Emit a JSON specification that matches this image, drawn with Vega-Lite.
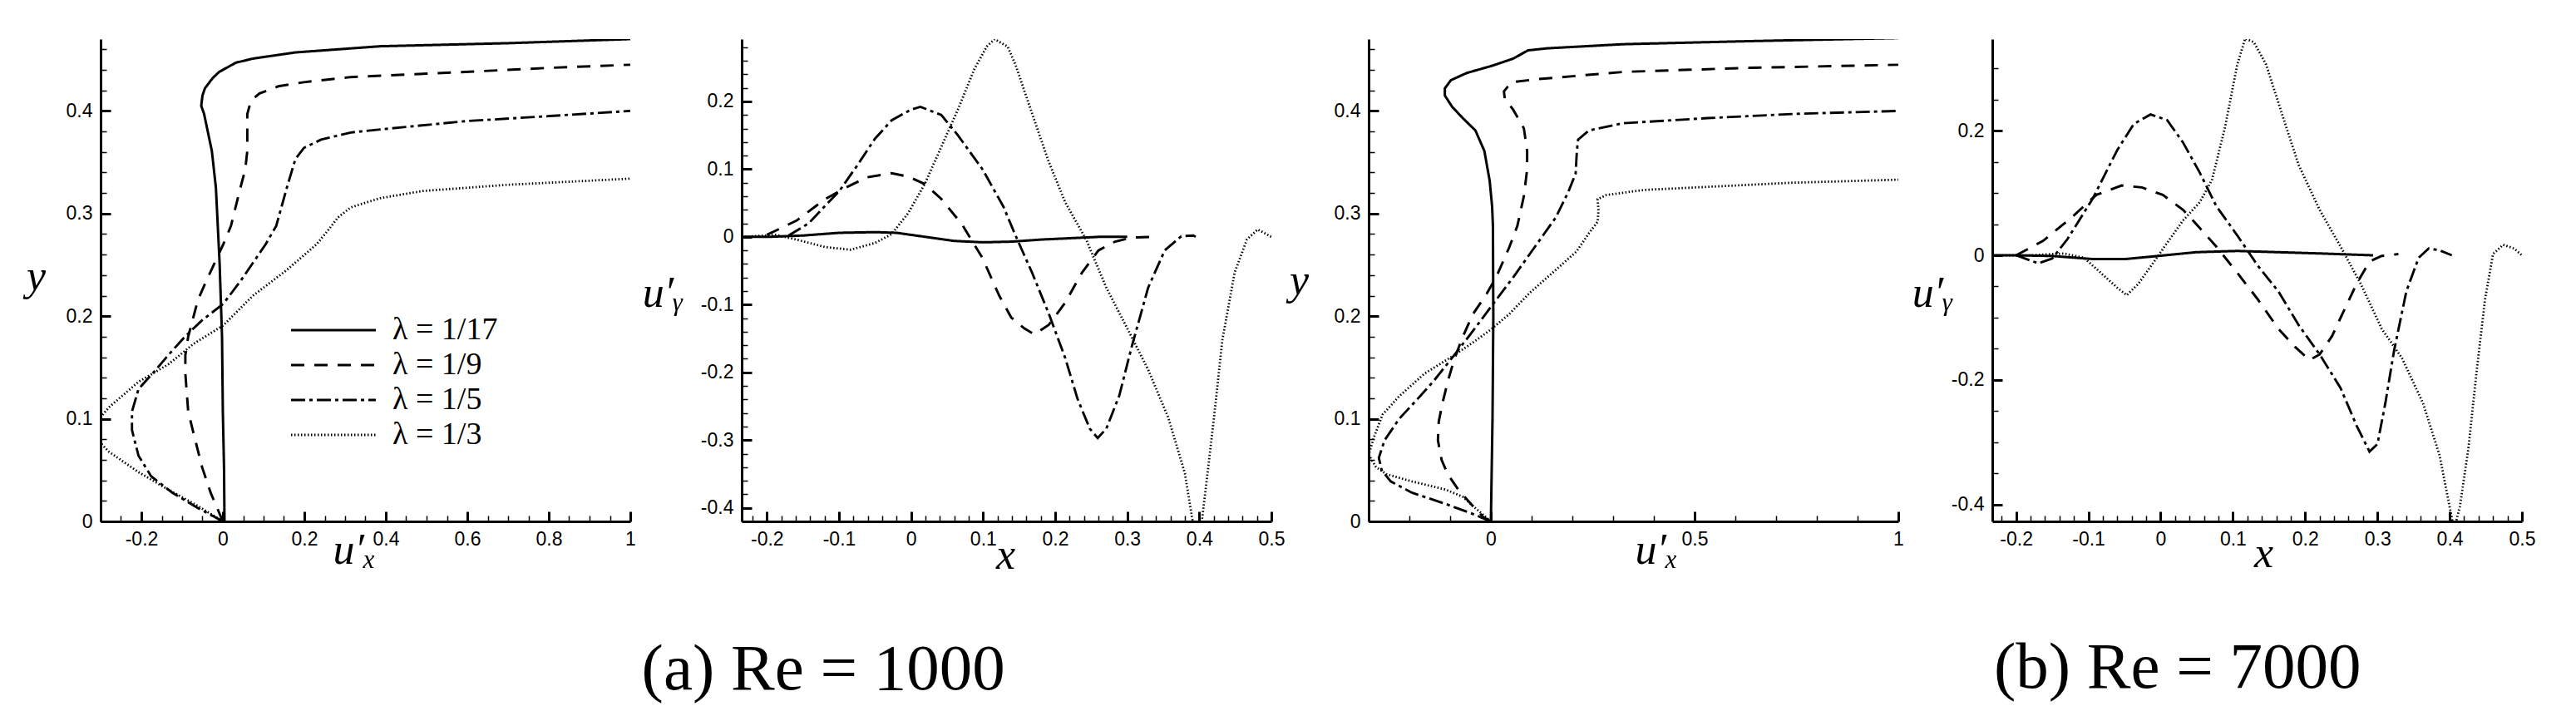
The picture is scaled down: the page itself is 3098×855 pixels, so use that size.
{
"$schema": "https://vega.github.io/schema/vega-lite/v6.json",
"background": "white",
"padding": {"left": 31, "top": 45, "right": 5, "bottom": 5},
"config": {
  "view": {"stroke": null},
  "axis": {"domainColor": "black", "domainWidth": 3, "tickColor": "black", "labelColor": "black", "labelFont": "Liberation Sans", "labelFontSize": 23, "labelPadding": 22, "grid": false, "labelFlush": false, "labelOverlap": false, "labelBound": false, "titleColor": "black", "titleFont": "Liberation Serif", "titleFontStyle": "italic", "titleFontSize": 52, "titleFontWeight": "normal", "titleAlign": "center"},
  "axisY": {"titleAngle": 0, "titleBaseline": "middle"},
  "axisX": {"titleBaseline": "alphabetic"},
  "legend": {"labelFont": "Liberation Serif", "labelFontSize": 38, "labelColor": "black", "labelLimit": 400, "symbolStrokeColor": "black"},
  "line": {"color": "black", "strokeCap": "butt"}
},
"datasets": {"d": [
{"p":"a1","lam":"λ = 1/17","x":0.004,"y":0},{"p":"a1","lam":"λ = 1/17","x":0.003,"y":0.05},{"p":"a1","lam":"λ = 1/17","x":0.0,"y":0.107},{"p":"a1","lam":"λ = 1/17","x":-0.002,"y":0.18},{"p":"a1","lam":"λ = 1/17","x":-0.008,"y":0.252},{"p":"a1","lam":"λ = 1/17","x":-0.017,"y":0.325},{"p":"a1","lam":"λ = 1/17","x":-0.027,"y":0.361},{"p":"a1","lam":"λ = 1/17","x":-0.046,"y":0.397},{"p":"a1","lam":"λ = 1/17","x":-0.053,"y":0.405},{"p":"a1","lam":"λ = 1/17","x":-0.05,"y":0.415},{"p":"a1","lam":"λ = 1/17","x":-0.044,"y":0.422},{"p":"a1","lam":"λ = 1/17","x":-0.025,"y":0.432},{"p":"a1","lam":"λ = 1/17","x":-0.009,"y":0.438},{"p":"a1","lam":"λ = 1/17","x":0.032,"y":0.447},{"p":"a1","lam":"λ = 1/17","x":0.074,"y":0.451},{"p":"a1","lam":"λ = 1/17","x":0.178,"y":0.457},{"p":"a1","lam":"λ = 1/17","x":0.282,"y":0.46},{"p":"a1","lam":"λ = 1/17","x":0.386,"y":0.463},{"p":"a1","lam":"λ = 1/17","x":0.699,"y":0.466},{"p":"a1","lam":"λ = 1/17","x":1.0,"y":0.47},
{"p":"a1","lam":"λ = 1/9","x":0,"y":0},{"p":"a1","lam":"λ = 1/9","x":-0.03,"y":0.028},{"p":"a1","lam":"λ = 1/9","x":-0.051,"y":0.053},{"p":"a1","lam":"λ = 1/9","x":-0.072,"y":0.086},{"p":"a1","lam":"λ = 1/9","x":-0.085,"y":0.107},{"p":"a1","lam":"λ = 1/9","x":-0.092,"y":0.144},{"p":"a1","lam":"λ = 1/9","x":-0.092,"y":0.162},{"p":"a1","lam":"λ = 1/9","x":-0.085,"y":0.18},{"p":"a1","lam":"λ = 1/9","x":-0.061,"y":0.216},{"p":"a1","lam":"λ = 1/9","x":-0.041,"y":0.234},{"p":"a1","lam":"λ = 1/9","x":-0.02,"y":0.252},{"p":"a1","lam":"λ = 1/9","x":0.001,"y":0.27},{"p":"a1","lam":"λ = 1/9","x":0.02,"y":0.288},{"p":"a1","lam":"λ = 1/9","x":0.043,"y":0.325},{"p":"a1","lam":"λ = 1/9","x":0.055,"y":0.343},{"p":"a1","lam":"λ = 1/9","x":0.06,"y":0.361},{"p":"a1","lam":"λ = 1/9","x":0.06,"y":0.397},{"p":"a1","lam":"λ = 1/9","x":0.069,"y":0.41},{"p":"a1","lam":"λ = 1/9","x":0.09,"y":0.417},{"p":"a1","lam":"λ = 1/9","x":0.136,"y":0.424},{"p":"a1","lam":"λ = 1/9","x":0.199,"y":0.428},{"p":"a1","lam":"λ = 1/9","x":0.314,"y":0.433},{"p":"a1","lam":"λ = 1/9","x":0.595,"y":0.438},{"p":"a1","lam":"λ = 1/9","x":0.803,"y":0.442},{"p":"a1","lam":"λ = 1/9","x":1.0,"y":0.445},
{"p":"a1","lam":"λ = 1/5","x":0,"y":0},{"p":"a1","lam":"λ = 1/5","x":-0.061,"y":0.013},{"p":"a1","lam":"λ = 1/5","x":-0.124,"y":0.028},{"p":"a1","lam":"λ = 1/5","x":-0.176,"y":0.044},{"p":"a1","lam":"λ = 1/5","x":-0.207,"y":0.064},{"p":"a1","lam":"λ = 1/5","x":-0.223,"y":0.089},{"p":"a1","lam":"λ = 1/5","x":-0.223,"y":0.107},{"p":"a1","lam":"λ = 1/5","x":-0.207,"y":0.129},{"p":"a1","lam":"λ = 1/5","x":-0.166,"y":0.147},{"p":"a1","lam":"λ = 1/5","x":-0.134,"y":0.162},{"p":"a1","lam":"λ = 1/5","x":-0.093,"y":0.18},{"p":"a1","lam":"λ = 1/5","x":-0.051,"y":0.196},{"p":"a1","lam":"λ = 1/5","x":0.001,"y":0.212},{"p":"a1","lam":"λ = 1/5","x":0.043,"y":0.234},{"p":"a1","lam":"λ = 1/5","x":0.074,"y":0.252},{"p":"a1","lam":"λ = 1/5","x":0.105,"y":0.27},{"p":"a1","lam":"λ = 1/5","x":0.131,"y":0.288},{"p":"a1","lam":"λ = 1/5","x":0.157,"y":0.325},{"p":"a1","lam":"λ = 1/5","x":0.178,"y":0.353},{"p":"a1","lam":"λ = 1/5","x":0.199,"y":0.364},{"p":"a1","lam":"λ = 1/5","x":0.241,"y":0.372},{"p":"a1","lam":"λ = 1/5","x":0.314,"y":0.379},{"p":"a1","lam":"λ = 1/5","x":0.439,"y":0.384},{"p":"a1","lam":"λ = 1/5","x":0.595,"y":0.39},{"p":"a1","lam":"λ = 1/5","x":0.803,"y":0.395},{"p":"a1","lam":"λ = 1/5","x":1.0,"y":0.4},
{"p":"a1","lam":"λ = 1/3","x":0,"y":0},{"p":"a1","lam":"λ = 1/3","x":-0.061,"y":0.015},{"p":"a1","lam":"λ = 1/3","x":-0.134,"y":0.031},{"p":"a1","lam":"λ = 1/3","x":-0.207,"y":0.048},{"p":"a1","lam":"λ = 1/3","x":-0.28,"y":0.068},{"p":"a1","lam":"λ = 1/3","x":-0.32,"y":0.085},{"p":"a1","lam":"λ = 1/3","x":-0.303,"y":0.1},{"p":"a1","lam":"λ = 1/3","x":-0.28,"y":0.111},{"p":"a1","lam":"λ = 1/3","x":-0.207,"y":0.136},{"p":"a1","lam":"λ = 1/3","x":-0.134,"y":0.153},{"p":"a1","lam":"λ = 1/3","x":-0.072,"y":0.173},{"p":"a1","lam":"λ = 1/3","x":0.001,"y":0.191},{"p":"a1","lam":"λ = 1/3","x":0.074,"y":0.22},{"p":"a1","lam":"λ = 1/3","x":0.157,"y":0.245},{"p":"a1","lam":"λ = 1/3","x":0.23,"y":0.27},{"p":"a1","lam":"λ = 1/3","x":0.261,"y":0.285},{"p":"a1","lam":"λ = 1/3","x":0.282,"y":0.296},{"p":"a1","lam":"λ = 1/3","x":0.314,"y":0.306},{"p":"a1","lam":"λ = 1/3","x":0.386,"y":0.315},{"p":"a1","lam":"λ = 1/3","x":0.491,"y":0.322},{"p":"a1","lam":"λ = 1/3","x":0.699,"y":0.328},{"p":"a1","lam":"λ = 1/3","x":1.0,"y":0.334},
{"p":"a2","lam":"λ = 1/17","x":-0.235,"y":0},{"p":"a2","lam":"λ = 1/17","x":-0.2,"y":0},{"p":"a2","lam":"λ = 1/17","x":-0.15,"y":0.002},{"p":"a2","lam":"λ = 1/17","x":-0.1,"y":0.006},{"p":"a2","lam":"λ = 1/17","x":-0.05,"y":0.007},{"p":"a2","lam":"λ = 1/17","x":-0.02,"y":0.006},{"p":"a2","lam":"λ = 1/17","x":0.02,"y":0.0},{"p":"a2","lam":"λ = 1/17","x":0.06,"y":-0.006},{"p":"a2","lam":"λ = 1/17","x":0.1,"y":-0.008},{"p":"a2","lam":"λ = 1/17","x":0.14,"y":-0.007},{"p":"a2","lam":"λ = 1/17","x":0.18,"y":-0.004},{"p":"a2","lam":"λ = 1/17","x":0.22,"y":-0.002},{"p":"a2","lam":"λ = 1/17","x":0.26,"y":0},{"p":"a2","lam":"λ = 1/17","x":0.3,"y":0},
{"p":"a2","lam":"λ = 1/9","x":-0.2,"y":0.003},{"p":"a2","lam":"λ = 1/9","x":-0.159,"y":0.024},{"p":"a2","lam":"λ = 1/9","x":-0.119,"y":0.056},{"p":"a2","lam":"λ = 1/9","x":-0.09,"y":0.073},{"p":"a2","lam":"λ = 1/9","x":-0.061,"y":0.088},{"p":"a2","lam":"λ = 1/9","x":-0.027,"y":0.094},{"p":"a2","lam":"λ = 1/9","x":-0.004,"y":0.089},{"p":"a2","lam":"λ = 1/9","x":0.019,"y":0.078},{"p":"a2","lam":"λ = 1/9","x":0.042,"y":0.056},{"p":"a2","lam":"λ = 1/9","x":0.071,"y":0.018},{"p":"a2","lam":"λ = 1/9","x":0.099,"y":-0.031},{"p":"a2","lam":"λ = 1/9","x":0.122,"y":-0.086},{"p":"a2","lam":"λ = 1/9","x":0.139,"y":-0.119},{"p":"a2","lam":"λ = 1/9","x":0.157,"y":-0.135},{"p":"a2","lam":"λ = 1/9","x":0.171,"y":-0.144},{"p":"a2","lam":"λ = 1/9","x":0.191,"y":-0.13},{"p":"a2","lam":"λ = 1/9","x":0.214,"y":-0.097},{"p":"a2","lam":"λ = 1/9","x":0.237,"y":-0.053},{"p":"a2","lam":"λ = 1/9","x":0.26,"y":-0.02},{"p":"a2","lam":"λ = 1/9","x":0.283,"y":-0.007},{"p":"a2","lam":"λ = 1/9","x":0.306,"y":-0.001},{"p":"a2","lam":"λ = 1/9","x":0.334,"y":0},
{"p":"a2","lam":"λ = 1/5","x":-0.17,"y":0.002},{"p":"a2","lam":"λ = 1/5","x":-0.142,"y":0.02},{"p":"a2","lam":"λ = 1/5","x":-0.12,"y":0.045},{"p":"a2","lam":"λ = 1/5","x":-0.1,"y":0.067},{"p":"a2","lam":"λ = 1/5","x":-0.075,"y":0.105},{"p":"a2","lam":"λ = 1/5","x":-0.05,"y":0.145},{"p":"a2","lam":"λ = 1/5","x":-0.027,"y":0.172},{"p":"a2","lam":"λ = 1/5","x":0,"y":0.188},{"p":"a2","lam":"λ = 1/5","x":0.013,"y":0.192},{"p":"a2","lam":"λ = 1/5","x":0.042,"y":0.18},{"p":"a2","lam":"λ = 1/5","x":0.065,"y":0.15},{"p":"a2","lam":"λ = 1/5","x":0.099,"y":0.1},{"p":"a2","lam":"λ = 1/5","x":0.128,"y":0.045},{"p":"a2","lam":"λ = 1/5","x":0.145,"y":0.002},{"p":"a2","lam":"λ = 1/5","x":0.168,"y":-0.053},{"p":"a2","lam":"λ = 1/5","x":0.191,"y":-0.113},{"p":"a2","lam":"λ = 1/5","x":0.214,"y":-0.179},{"p":"a2","lam":"λ = 1/5","x":0.231,"y":-0.239},{"p":"a2","lam":"λ = 1/5","x":0.248,"y":-0.283},{"p":"a2","lam":"λ = 1/5","x":0.259,"y":-0.297},{"p":"a2","lam":"λ = 1/5","x":0.271,"y":-0.283},{"p":"a2","lam":"λ = 1/5","x":0.289,"y":-0.234},{"p":"a2","lam":"λ = 1/5","x":0.306,"y":-0.163},{"p":"a2","lam":"λ = 1/5","x":0.329,"y":-0.075},{"p":"a2","lam":"λ = 1/5","x":0.352,"y":-0.02},{"p":"a2","lam":"λ = 1/5","x":0.375,"y":0.001},{"p":"a2","lam":"λ = 1/5","x":0.392,"y":0.002},{"p":"a2","lam":"λ = 1/5","x":0.395,"y":0},
{"p":"a2","lam":"λ = 1/3","x":-0.235,"y":0},{"p":"a2","lam":"λ = 1/3","x":-0.188,"y":0.003},{"p":"a2","lam":"λ = 1/3","x":-0.159,"y":-0.004},{"p":"a2","lam":"λ = 1/3","x":-0.119,"y":-0.015},{"p":"a2","lam":"λ = 1/3","x":-0.084,"y":-0.019},{"p":"a2","lam":"λ = 1/3","x":-0.05,"y":-0.009},{"p":"a2","lam":"λ = 1/3","x":-0.027,"y":0.004},{"p":"a2","lam":"λ = 1/3","x":-0.004,"y":0.035},{"p":"a2","lam":"λ = 1/3","x":0.019,"y":0.078},{"p":"a2","lam":"λ = 1/3","x":0.042,"y":0.133},{"p":"a2","lam":"λ = 1/3","x":0.065,"y":0.188},{"p":"a2","lam":"λ = 1/3","x":0.088,"y":0.248},{"p":"a2","lam":"λ = 1/3","x":0.105,"y":0.281},{"p":"a2","lam":"λ = 1/3","x":0.116,"y":0.292},{"p":"a2","lam":"λ = 1/3","x":0.134,"y":0.281},{"p":"a2","lam":"λ = 1/3","x":0.145,"y":0.254},{"p":"a2","lam":"λ = 1/3","x":0.168,"y":0.182},{"p":"a2","lam":"λ = 1/3","x":0.191,"y":0.111},{"p":"a2","lam":"λ = 1/3","x":0.214,"y":0.051},{"p":"a2","lam":"λ = 1/3","x":0.243,"y":-0.004},{"p":"a2","lam":"λ = 1/3","x":0.271,"y":-0.075},{"p":"a2","lam":"λ = 1/3","x":0.3,"y":-0.135},{"p":"a2","lam":"λ = 1/3","x":0.329,"y":-0.196},{"p":"a2","lam":"λ = 1/3","x":0.357,"y":-0.267},{"p":"a2","lam":"λ = 1/3","x":0.38,"y":-0.349},{"p":"a2","lam":"λ = 1/3","x":0.39,"y":-0.415},{"p":"a2","lam":"λ = 1/3","x":0.397,"y":-0.45},{"p":"a2","lam":"λ = 1/3","x":0.404,"y":-0.415},{"p":"a2","lam":"λ = 1/3","x":0.409,"y":-0.371},{"p":"a2","lam":"λ = 1/3","x":0.421,"y":-0.261},{"p":"a2","lam":"λ = 1/3","x":0.432,"y":-0.152},{"p":"a2","lam":"λ = 1/3","x":0.449,"y":-0.053},{"p":"a2","lam":"λ = 1/3","x":0.466,"y":-0.004},{"p":"a2","lam":"λ = 1/3","x":0.481,"y":0.011},{"p":"a2","lam":"λ = 1/3","x":0.5,"y":0},
{"p":"b1","lam":"λ = 1/17","x":0,"y":0},{"p":"b1","lam":"λ = 1/17","x":0.004,"y":0.1},{"p":"b1","lam":"λ = 1/17","x":0.006,"y":0.2},{"p":"b1","lam":"λ = 1/17","x":0.005,"y":0.288},{"p":"b1","lam":"λ = 1/17","x":0.003,"y":0.307},{"p":"b1","lam":"λ = 1/17","x":-0.003,"y":0.332},{"p":"b1","lam":"λ = 1/17","x":-0.016,"y":0.361},{"p":"b1","lam":"λ = 1/17","x":-0.038,"y":0.381},{"p":"b1","lam":"λ = 1/17","x":-0.069,"y":0.393},{"p":"b1","lam":"λ = 1/17","x":-0.095,"y":0.404},{"p":"b1","lam":"λ = 1/17","x":-0.113,"y":0.415},{"p":"b1","lam":"λ = 1/17","x":-0.113,"y":0.422},{"p":"b1","lam":"λ = 1/17","x":-0.098,"y":0.43},{"p":"b1","lam":"λ = 1/17","x":-0.059,"y":0.437},{"p":"b1","lam":"λ = 1/17","x":0.003,"y":0.444},{"p":"b1","lam":"λ = 1/17","x":0.055,"y":0.451},{"p":"b1","lam":"λ = 1/17","x":0.091,"y":0.459},{"p":"b1","lam":"λ = 1/17","x":0.138,"y":0.461},{"p":"b1","lam":"λ = 1/17","x":0.324,"y":0.465},{"p":"b1","lam":"λ = 1/17","x":0.635,"y":0.468},{"p":"b1","lam":"λ = 1/17","x":1.0,"y":0.471},
{"p":"b1","lam":"λ = 1/9","x":0,"y":0},{"p":"b1","lam":"λ = 1/9","x":-0.018,"y":0.004},{"p":"b1","lam":"λ = 1/9","x":-0.049,"y":0.017},{"p":"b1","lam":"λ = 1/9","x":-0.08,"y":0.031},{"p":"b1","lam":"λ = 1/9","x":-0.106,"y":0.046},{"p":"b1","lam":"λ = 1/9","x":-0.121,"y":0.06},{"p":"b1","lam":"λ = 1/9","x":-0.13,"y":0.079},{"p":"b1","lam":"λ = 1/9","x":-0.128,"y":0.097},{"p":"b1","lam":"λ = 1/9","x":-0.119,"y":0.115},{"p":"b1","lam":"λ = 1/9","x":-0.106,"y":0.136},{"p":"b1","lam":"λ = 1/9","x":-0.09,"y":0.158},{"p":"b1","lam":"λ = 1/9","x":-0.069,"y":0.18},{"p":"b1","lam":"λ = 1/9","x":-0.044,"y":0.202},{"p":"b1","lam":"λ = 1/9","x":-0.01,"y":0.222},{"p":"b1","lam":"λ = 1/9","x":0.013,"y":0.238},{"p":"b1","lam":"λ = 1/9","x":0.045,"y":0.267},{"p":"b1","lam":"λ = 1/9","x":0.065,"y":0.288},{"p":"b1","lam":"λ = 1/9","x":0.081,"y":0.317},{"p":"b1","lam":"λ = 1/9","x":0.089,"y":0.343},{"p":"b1","lam":"λ = 1/9","x":0.089,"y":0.361},{"p":"b1","lam":"λ = 1/9","x":0.081,"y":0.383},{"p":"b1","lam":"λ = 1/9","x":0.055,"y":0.401},{"p":"b1","lam":"λ = 1/9","x":0.034,"y":0.412},{"p":"b1","lam":"λ = 1/9","x":0.032,"y":0.419},{"p":"b1","lam":"λ = 1/9","x":0.05,"y":0.428},{"p":"b1","lam":"λ = 1/9","x":0.117,"y":0.431},{"p":"b1","lam":"λ = 1/9","x":0.324,"y":0.438},{"p":"b1","lam":"λ = 1/9","x":0.635,"y":0.442},{"p":"b1","lam":"λ = 1/9","x":1.0,"y":0.445},
{"p":"b1","lam":"λ = 1/5","x":0,"y":0},{"p":"b1","lam":"λ = 1/5","x":-0.049,"y":0.008},{"p":"b1","lam":"λ = 1/5","x":-0.111,"y":0.017},{"p":"b1","lam":"λ = 1/5","x":-0.194,"y":0.028},{"p":"b1","lam":"λ = 1/5","x":-0.246,"y":0.039},{"p":"b1","lam":"λ = 1/5","x":-0.268,"y":0.05},{"p":"b1","lam":"λ = 1/5","x":-0.275,"y":0.062},{"p":"b1","lam":"λ = 1/5","x":-0.261,"y":0.079},{"p":"b1","lam":"λ = 1/5","x":-0.225,"y":0.1},{"p":"b1","lam":"λ = 1/5","x":-0.183,"y":0.118},{"p":"b1","lam":"λ = 1/5","x":-0.142,"y":0.136},{"p":"b1","lam":"λ = 1/5","x":-0.09,"y":0.162},{"p":"b1","lam":"λ = 1/5","x":-0.049,"y":0.183},{"p":"b1","lam":"λ = 1/5","x":0,"y":0.209},{"p":"b1","lam":"λ = 1/5","x":0.055,"y":0.238},{"p":"b1","lam":"λ = 1/5","x":0.107,"y":0.267},{"p":"b1","lam":"λ = 1/5","x":0.159,"y":0.296},{"p":"b1","lam":"λ = 1/5","x":0.19,"y":0.321},{"p":"b1","lam":"λ = 1/5","x":0.208,"y":0.339},{"p":"b1","lam":"λ = 1/5","x":0.211,"y":0.361},{"p":"b1","lam":"λ = 1/5","x":0.214,"y":0.372},{"p":"b1","lam":"λ = 1/5","x":0.241,"y":0.381},{"p":"b1","lam":"λ = 1/5","x":0.324,"y":0.388},{"p":"b1","lam":"λ = 1/5","x":0.532,"y":0.393},{"p":"b1","lam":"λ = 1/5","x":0.739,"y":0.397},{"p":"b1","lam":"λ = 1/5","x":1.0,"y":0.4},
{"p":"b1","lam":"λ = 1/3","x":0,"y":0},{"p":"b1","lam":"λ = 1/3","x":-0.038,"y":0.013},{"p":"b1","lam":"λ = 1/3","x":-0.069,"y":0.024},{"p":"b1","lam":"λ = 1/3","x":-0.111,"y":0.031},{"p":"b1","lam":"λ = 1/3","x":-0.194,"y":0.039},{"p":"b1","lam":"λ = 1/3","x":-0.256,"y":0.046},{"p":"b1","lam":"λ = 1/3","x":-0.282,"y":0.053},{"p":"b1","lam":"λ = 1/3","x":-0.3,"y":0.065},{"p":"b1","lam":"λ = 1/3","x":-0.287,"y":0.082},{"p":"b1","lam":"λ = 1/3","x":-0.266,"y":0.104},{"p":"b1","lam":"λ = 1/3","x":-0.225,"y":0.122},{"p":"b1","lam":"λ = 1/3","x":-0.163,"y":0.144},{"p":"b1","lam":"λ = 1/3","x":-0.09,"y":0.162},{"p":"b1","lam":"λ = 1/3","x":-0.038,"y":0.176},{"p":"b1","lam":"λ = 1/3","x":0,"y":0.187},{"p":"b1","lam":"λ = 1/3","x":0.045,"y":0.202},{"p":"b1","lam":"λ = 1/3","x":0.096,"y":0.223},{"p":"b1","lam":"λ = 1/3","x":0.159,"y":0.245},{"p":"b1","lam":"λ = 1/3","x":0.21,"y":0.263},{"p":"b1","lam":"λ = 1/3","x":0.241,"y":0.281},{"p":"b1","lam":"λ = 1/3","x":0.262,"y":0.292},{"p":"b1","lam":"λ = 1/3","x":0.264,"y":0.303},{"p":"b1","lam":"λ = 1/3","x":0.262,"y":0.314},{"p":"b1","lam":"λ = 1/3","x":0.283,"y":0.318},{"p":"b1","lam":"λ = 1/3","x":0.376,"y":0.323},{"p":"b1","lam":"λ = 1/3","x":0.532,"y":0.326},{"p":"b1","lam":"λ = 1/3","x":0.739,"y":0.33},{"p":"b1","lam":"λ = 1/3","x":1.0,"y":0.333},
{"p":"b2","lam":"λ = 1/17","x":-0.233,"y":0},{"p":"b2","lam":"λ = 1/17","x":-0.2,"y":0},{"p":"b2","lam":"λ = 1/17","x":-0.151,"y":-0.001},{"p":"b2","lam":"λ = 1/17","x":-0.094,"y":-0.006},{"p":"b2","lam":"λ = 1/17","x":-0.049,"y":-0.006},{"p":"b2","lam":"λ = 1/17","x":-0.003,"y":-0.001},{"p":"b2","lam":"λ = 1/17","x":0.049,"y":0.005},{"p":"b2","lam":"λ = 1/17","x":0.106,"y":0.007},{"p":"b2","lam":"λ = 1/17","x":0.163,"y":0.005},{"p":"b2","lam":"λ = 1/17","x":0.22,"y":0.003},{"p":"b2","lam":"λ = 1/17","x":0.294,"y":0},
{"p":"b2","lam":"λ = 1/9","x":-0.2,"y":0},{"p":"b2","lam":"λ = 1/9","x":-0.163,"y":0.023},{"p":"b2","lam":"λ = 1/9","x":-0.123,"y":0.061},{"p":"b2","lam":"λ = 1/9","x":-0.089,"y":0.097},{"p":"b2","lam":"λ = 1/9","x":-0.054,"y":0.112},{"p":"b2","lam":"λ = 1/9","x":-0.026,"y":0.109},{"p":"b2","lam":"λ = 1/9","x":0.003,"y":0.097},{"p":"b2","lam":"λ = 1/9","x":0.031,"y":0.073},{"p":"b2","lam":"λ = 1/9","x":0.054,"y":0.044},{"p":"b2","lam":"λ = 1/9","x":0.077,"y":0.014},{"p":"b2","lam":"λ = 1/9","x":0.106,"y":-0.028},{"p":"b2","lam":"λ = 1/9","x":0.134,"y":-0.07},{"p":"b2","lam":"λ = 1/9","x":0.163,"y":-0.118},{"p":"b2","lam":"λ = 1/9","x":0.186,"y":-0.147},{"p":"b2","lam":"λ = 1/9","x":0.206,"y":-0.168},{"p":"b2","lam":"λ = 1/9","x":0.22,"y":-0.159},{"p":"b2","lam":"λ = 1/9","x":0.237,"y":-0.13},{"p":"b2","lam":"λ = 1/9","x":0.254,"y":-0.088},{"p":"b2","lam":"λ = 1/9","x":0.271,"y":-0.046},{"p":"b2","lam":"λ = 1/9","x":0.289,"y":-0.01},{"p":"b2","lam":"λ = 1/9","x":0.306,"y":-0.001},{"p":"b2","lam":"λ = 1/9","x":0.329,"y":0.002},
{"p":"b2","lam":"λ = 1/5","x":-0.2,"y":0},{"p":"b2","lam":"λ = 1/5","x":-0.169,"y":-0.013},{"p":"b2","lam":"λ = 1/5","x":-0.15,"y":-0.005},{"p":"b2","lam":"λ = 1/5","x":-0.129,"y":0.026},{"p":"b2","lam":"λ = 1/5","x":-0.094,"y":0.091},{"p":"b2","lam":"λ = 1/5","x":-0.06,"y":0.169},{"p":"b2","lam":"λ = 1/5","x":-0.037,"y":0.211},{"p":"b2","lam":"λ = 1/5","x":-0.014,"y":0.226},{"p":"b2","lam":"λ = 1/5","x":0.009,"y":0.217},{"p":"b2","lam":"λ = 1/5","x":0.031,"y":0.181},{"p":"b2","lam":"λ = 1/5","x":0.054,"y":0.133},{"p":"b2","lam":"λ = 1/5","x":0.077,"y":0.079},{"p":"b2","lam":"λ = 1/5","x":0.106,"y":0.032},{"p":"b2","lam":"λ = 1/5","x":0.134,"y":-0.016},{"p":"b2","lam":"λ = 1/5","x":0.163,"y":-0.058},{"p":"b2","lam":"λ = 1/5","x":0.191,"y":-0.112},{"p":"b2","lam":"λ = 1/5","x":0.22,"y":-0.159},{"p":"b2","lam":"λ = 1/5","x":0.249,"y":-0.213},{"p":"b2","lam":"λ = 1/5","x":0.271,"y":-0.273},{"p":"b2","lam":"λ = 1/5","x":0.289,"y":-0.315},{"p":"b2","lam":"λ = 1/5","x":0.3,"y":-0.303},{"p":"b2","lam":"λ = 1/5","x":0.311,"y":-0.237},{"p":"b2","lam":"λ = 1/5","x":0.323,"y":-0.153},{"p":"b2","lam":"λ = 1/5","x":0.34,"y":-0.058},{"p":"b2","lam":"λ = 1/5","x":0.357,"y":-0.004},{"p":"b2","lam":"λ = 1/5","x":0.371,"y":0.011},{"p":"b2","lam":"λ = 1/5","x":0.386,"y":0.008},{"p":"b2","lam":"λ = 1/5","x":0.403,"y":0},
{"p":"b2","lam":"λ = 1/3","x":-0.233,"y":0},{"p":"b2","lam":"λ = 1/3","x":-0.18,"y":0},{"p":"b2","lam":"λ = 1/3","x":-0.134,"y":0.003},{"p":"b2","lam":"λ = 1/3","x":-0.106,"y":-0.004},{"p":"b2","lam":"λ = 1/3","x":-0.083,"y":-0.028},{"p":"b2","lam":"λ = 1/3","x":-0.06,"y":-0.052},{"p":"b2","lam":"λ = 1/3","x":-0.047,"y":-0.064},{"p":"b2","lam":"λ = 1/3","x":-0.031,"y":-0.046},{"p":"b2","lam":"λ = 1/3","x":-0.009,"y":-0.01},{"p":"b2","lam":"λ = 1/3","x":0.009,"y":0.02},{"p":"b2","lam":"λ = 1/3","x":0.031,"y":0.056},{"p":"b2","lam":"λ = 1/3","x":0.054,"y":0.085},{"p":"b2","lam":"λ = 1/3","x":0.071,"y":0.121},{"p":"b2","lam":"λ = 1/3","x":0.089,"y":0.205},{"p":"b2","lam":"λ = 1/3","x":0.106,"y":0.306},{"p":"b2","lam":"λ = 1/3","x":0.117,"y":0.348},{"p":"b2","lam":"λ = 1/3","x":0.129,"y":0.342},{"p":"b2","lam":"λ = 1/3","x":0.146,"y":0.306},{"p":"b2","lam":"λ = 1/3","x":0.169,"y":0.223},{"p":"b2","lam":"λ = 1/3","x":0.191,"y":0.145},{"p":"b2","lam":"λ = 1/3","x":0.22,"y":0.073},{"p":"b2","lam":"λ = 1/3","x":0.249,"y":0.014},{"p":"b2","lam":"λ = 1/3","x":0.277,"y":-0.046},{"p":"b2","lam":"λ = 1/3","x":0.306,"y":-0.118},{"p":"b2","lam":"λ = 1/3","x":0.334,"y":-0.165},{"p":"b2","lam":"λ = 1/3","x":0.363,"y":-0.237},{"p":"b2","lam":"λ = 1/3","x":0.386,"y":-0.321},{"p":"b2","lam":"λ = 1/3","x":0.4,"y":-0.404},{"p":"b2","lam":"λ = 1/3","x":0.406,"y":-0.44},{"p":"b2","lam":"λ = 1/3","x":0.414,"y":-0.404},{"p":"b2","lam":"λ = 1/3","x":0.426,"y":-0.309},{"p":"b2","lam":"λ = 1/3","x":0.437,"y":-0.189},{"p":"b2","lam":"λ = 1/3","x":0.449,"y":-0.07},{"p":"b2","lam":"λ = 1/3","x":0.46,"y":0.002},{"p":"b2","lam":"λ = 1/3","x":0.474,"y":0.017},{"p":"b2","lam":"λ = 1/3","x":0.489,"y":0.011},{"p":"b2","lam":"λ = 1/3","x":0.5,"y":0}
]},
"resolve": {"scale": {"strokeDash": "independent", "strokeWidth": "independent"}},
"spacing": 5,
"hconcat": [
{
  "title": {"text": "(a) Re = 1000", "orient": "bottom", "anchor": "middle", "frame": "bounds", "font": "Liberation Serif", "fontSize": 79, "fontWeight": "normal", "color": "black", "baseline": "alphabetic", "offset": 136, "dx": 202},
  "spacing": 7,
  "resolve": {"scale": {"strokeDash": "independent", "strokeWidth": "independent"}},
  "hconcat": [
  {
    "width": 637, "height": 580,
    "data": {"name": "d"},
    "transform": [{"filter": "datum.p == 'a1'"}],
    "mark": {"type": "line", "clip": true},
    "encoding": {
      "x": {"field": "x", "type": "quantitative", "scale": {"domain": [-0.3, 1], "nice": false, "zero": false},
        "axis": {"values": [-0.3,-0.25,-0.2,-0.15,-0.1,-0.05,0,0.05,0.1,0.15,0.2,0.25,0.3,0.35,0.4,0.45,0.5,0.55,0.6,0.65,0.7,0.75,0.8,0.85,0.9,0.95,1],
          "labelExpr": "abs(datum.value*5 - round(datum.value*5)) < 1e-6 ? replace(format(datum.value, '.1~f'), '−', '-') : ''",
          "tickSize": {"condition": {"test": "abs(datum.value*5 - round(datum.value*5)) < 1e-6", "value": -12}, "value": -7},
          "tickWidth": {"condition": {"test": "abs(datum.value*5 - round(datum.value*5)) < 1e-6", "value": 3}, "value": 1.5},
          "title": "u′ₓ", "titleX": 305, "titleY": 50}},
      "y": {"field": "y", "type": "quantitative", "scale": {"domain": [0, 0.47], "nice": false, "zero": false},
        "axis": {"values": [0,0.02,0.04,0.06,0.08,0.1,0.12,0.14,0.16,0.18,0.2,0.22,0.24,0.26,0.28,0.3,0.32,0.34,0.36,0.38,0.4,0.42,0.44,0.46],
          "labelExpr": "abs(datum.value*10 - round(datum.value*10)) < 1e-6 ? replace(format(datum.value, '.1~f'), '−', '-') : ''",
          "tickSize": {"condition": {"test": "abs(datum.value*10 - round(datum.value*10)) < 1e-6", "value": -12}, "value": -7},
          "tickWidth": {"condition": {"test": "abs(datum.value*10 - round(datum.value*10)) < 1e-6", "value": 3}, "value": 1.5},
          "title": "y", "titleX": -78, "titleY": 285}},
      "order": {"value": null},
      "strokeDash": {"field": "lam", "type": "nominal", "scale": {"domain": ["λ = 1/17","λ = 1/9","λ = 1/5","λ = 1/3"], "range": [[1,0],[16,12],[17,5,4,5],[1.5,2.5]]},
        "legend": {"orient": "none", "legendX": 261, "legendY": 331, "title": null, "symbolType": "M-4,0L4,0", "symbolSize": 650, "symbolStrokeColor": "black", "labelFont": "Liberation Serif", "labelFontSize": 38, "labelColor": "black", "labelOffset": 52, "rowPadding": 4, "padding": 0, "labelLimit": 400}},
      "strokeWidth": {"field": "lam", "type": "nominal", "scale": {"domain": ["λ = 1/17","λ = 1/9","λ = 1/5","λ = 1/3"], "range": [3,2.8,2.8,1.5]},
        "legend": {"orient": "none", "legendX": 261, "legendY": 331, "title": null, "symbolType": "M-4,0L4,0", "symbolSize": 650, "symbolStrokeColor": "black", "labelFont": "Liberation Serif", "labelFontSize": 38, "labelColor": "black", "labelOffset": 52, "rowPadding": 4, "padding": 0, "labelLimit": 400}}
    }
  },
  {
    "width": 637, "height": 580,
    "data": {"name": "d"},
    "transform": [{"filter": "datum.p == 'a2'"}],
    "mark": {"type": "line", "clip": true},
    "encoding": {
      "x": {"field": "x", "type": "quantitative", "scale": {"domain": [-0.235, 0.5], "nice": false, "zero": false},
        "axis": {"values": [-0.22,-0.2,-0.18,-0.16,-0.14,-0.12,-0.1,-0.08,-0.06,-0.04,-0.02,0,0.02,0.04,0.06,0.08,0.1,0.12,0.14,0.16,0.18,0.2,0.22,0.24,0.26,0.28,0.3,0.32,0.34,0.36,0.38,0.4,0.42,0.44,0.46,0.48,0.5],
          "labelExpr": "abs(datum.value*10 - round(datum.value*10)) < 1e-6 ? replace(format(datum.value, '.1~f'), '−', '-') : ''",
          "tickSize": {"condition": {"test": "abs(datum.value*10 - round(datum.value*10)) < 1e-6", "value": -12}, "value": -7},
          "tickWidth": {"condition": {"test": "abs(datum.value*10 - round(datum.value*10)) < 1e-6", "value": 3}, "value": 1.5},
          "title": "x", "titleX": 317, "titleY": 56}},
      "y": {"field": "y", "type": "quantitative", "scale": {"domain": [-0.42, 0.292], "nice": false, "zero": false},
        "axis": {"values": [-0.42,-0.4,-0.38,-0.36,-0.34,-0.32,-0.3,-0.28,-0.26,-0.24,-0.22,-0.2,-0.18,-0.16,-0.14,-0.12,-0.1,-0.08,-0.06,-0.04,-0.02,0,0.02,0.04,0.06,0.08,0.1,0.12,0.14,0.16,0.18,0.2,0.22,0.24,0.26,0.28],
          "labelExpr": "abs(datum.value*10 - round(datum.value*10)) < 1e-6 ? replace(format(datum.value, '.1~f'), '−', '-') : ''",
          "tickSize": {"condition": {"test": "abs(datum.value*10 - round(datum.value*10)) < 1e-6", "value": -12}, "value": -7},
          "tickWidth": {"condition": {"test": "abs(datum.value*10 - round(datum.value*10)) < 1e-6", "value": 3}, "value": 1.5},
          "title": "u′ᵧ", "titleX": -95, "titleY": 305}},
      "order": {"value": null},
      "strokeDash": {"field": "lam", "type": "nominal", "scale": {"domain": ["λ = 1/17","λ = 1/9","λ = 1/5","λ = 1/3"], "range": [[1,0],[16,12],[17,5,4,5],[1.5,2.5]]}, "legend": null},
      "strokeWidth": {"field": "lam", "type": "nominal", "scale": {"domain": ["λ = 1/17","λ = 1/9","λ = 1/5","λ = 1/3"], "range": [3,2.8,2.8,1.5]}, "legend": null}
    }
  }
  ]
},
{
  "title": {"text": "(b) Re = 7000", "orient": "bottom", "anchor": "middle", "frame": "bounds", "font": "Liberation Serif", "fontSize": 79, "fontWeight": "normal", "color": "black", "baseline": "alphabetic", "offset": 136, "dx": 319},
  "spacing": 9,
  "resolve": {"scale": {"strokeDash": "independent", "strokeWidth": "independent"}},
  "hconcat": [
  {
    "width": 637, "height": 580,
    "data": {"name": "d"},
    "transform": [{"filter": "datum.p == 'b1'"}],
    "mark": {"type": "line", "clip": true},
    "encoding": {
      "x": {"field": "x", "type": "quantitative", "scale": {"domain": [-0.3, 1], "nice": false, "zero": false},
        "axis": {"values": [-0.3,-0.2,-0.1,0,0.1,0.2,0.3,0.4,0.5,0.6,0.7,0.8,0.9,1],
          "labelExpr": "abs(datum.value*2 - round(datum.value*2)) < 1e-6 ? replace(format(datum.value, '.1~f'), '−', '-') : ''",
          "tickSize": {"condition": {"test": "abs(datum.value*2 - round(datum.value*2)) < 1e-6", "value": -12}, "value": -7},
          "tickWidth": {"condition": {"test": "abs(datum.value*2 - round(datum.value*2)) < 1e-6", "value": 3}, "value": 1.5},
          "title": "u′ₓ", "titleX": 346, "titleY": 50}},
      "y": {"field": "y", "type": "quantitative", "scale": {"domain": [0, 0.47], "nice": false, "zero": false},
        "axis": {"values": [0,0.02,0.04,0.06,0.08,0.1,0.12,0.14,0.16,0.18,0.2,0.22,0.24,0.26,0.28,0.3,0.32,0.34,0.36,0.38,0.4,0.42,0.44,0.46],
          "labelExpr": "abs(datum.value*10 - round(datum.value*10)) < 1e-6 ? replace(format(datum.value, '.1~f'), '−', '-') : ''",
          "tickSize": {"condition": {"test": "abs(datum.value*10 - round(datum.value*10)) < 1e-6", "value": -12}, "value": -7},
          "tickWidth": {"condition": {"test": "abs(datum.value*10 - round(datum.value*10)) < 1e-6", "value": 3}, "value": 1.5},
          "title": "y", "titleX": -84, "titleY": 290}},
      "order": {"value": null},
      "strokeDash": {"field": "lam", "type": "nominal", "scale": {"domain": ["λ = 1/17","λ = 1/9","λ = 1/5","λ = 1/3"], "range": [[1,0],[16,12],[17,5,4,5],[1.5,2.5]]}, "legend": null},
      "strokeWidth": {"field": "lam", "type": "nominal", "scale": {"domain": ["λ = 1/17","λ = 1/9","λ = 1/5","λ = 1/3"], "range": [3,2.8,2.8,1.5]}, "legend": null}
    }
  },
  {
    "width": 637, "height": 580,
    "data": {"name": "d"},
    "transform": [{"filter": "datum.p == 'b2'"}],
    "mark": {"type": "line", "clip": true},
    "encoding": {
      "x": {"field": "x", "type": "quantitative", "scale": {"domain": [-0.233, 0.5], "nice": false, "zero": false},
        "axis": {"values": [-0.22,-0.2,-0.18,-0.16,-0.14,-0.12,-0.1,-0.08,-0.06,-0.04,-0.02,0,0.02,0.04,0.06,0.08,0.1,0.12,0.14,0.16,0.18,0.2,0.22,0.24,0.26,0.28,0.3,0.32,0.34,0.36,0.38,0.4,0.42,0.44,0.46,0.48,0.5],
          "labelExpr": "abs(datum.value*10 - round(datum.value*10)) < 1e-6 ? replace(format(datum.value, '.1~f'), '−', '-') : ''",
          "tickSize": {"condition": {"test": "abs(datum.value*10 - round(datum.value*10)) < 1e-6", "value": -12}, "value": -7},
          "tickWidth": {"condition": {"test": "abs(datum.value*10 - round(datum.value*10)) < 1e-6", "value": 3}, "value": 1.5},
          "title": "x", "titleX": 326, "titleY": 54}},
      "y": {"field": "y", "type": "quantitative", "scale": {"domain": [-0.427, 0.347], "nice": false, "zero": false},
        "axis": {"values": [-0.4,-0.35,-0.3,-0.25,-0.2,-0.15,-0.1,-0.05,0,0.05,0.1,0.15,0.2,0.25,0.3,0.35],
          "labelExpr": "abs(datum.value*5 - round(datum.value*5)) < 1e-6 ? replace(format(datum.value, '.1~f'), '−', '-') : ''",
          "tickSize": {"condition": {"test": "abs(datum.value*5 - round(datum.value*5)) < 1e-6", "value": -12}, "value": -7},
          "tickWidth": {"condition": {"test": "abs(datum.value*5 - round(datum.value*5)) < 1e-6", "value": 3}, "value": 1.5},
          "title": "u′ᵧ", "titleX": -72, "titleY": 305}},
      "order": {"value": null},
      "strokeDash": {"field": "lam", "type": "nominal", "scale": {"domain": ["λ = 1/17","λ = 1/9","λ = 1/5","λ = 1/3"], "range": [[1,0],[16,12],[17,5,4,5],[1.5,2.5]]}, "legend": null},
      "strokeWidth": {"field": "lam", "type": "nominal", "scale": {"domain": ["λ = 1/17","λ = 1/9","λ = 1/5","λ = 1/3"], "range": [3,2.8,2.8,1.5]}, "legend": null}
    }
  }
  ]
}
]
}
